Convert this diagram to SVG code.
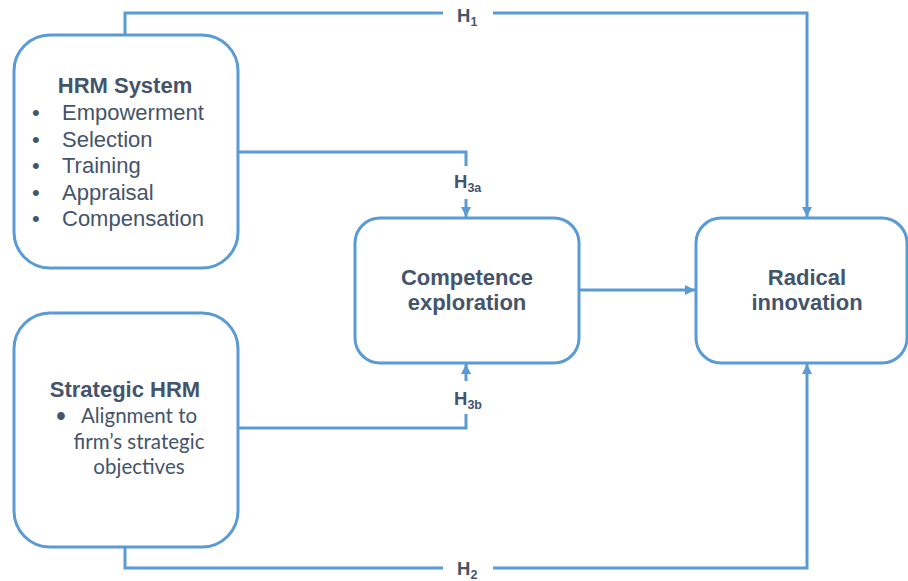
<svg xmlns="http://www.w3.org/2000/svg" width="908" height="581" viewBox="0 0 908 581">
<style>
.box{fill:#fff;stroke:#5b9bd5;stroke-width:3}
.ln{fill:none;stroke:#5b9bd5;stroke-width:3}
.t{font-family:"Liberation Sans",Arial,sans-serif;fill:#44546a;font-size:22px}
.b{font-weight:bold}
.c{font-family:Lato,"Liberation Sans",sans-serif;fill:#44546a;font-size:20.5px}
.h{font-family:"Liberation Sans",Arial,sans-serif;fill:#44546a;font-size:18.5px;font-weight:bold}
</style>
<defs>
<marker id="arr" markerUnits="userSpaceOnUse" markerWidth="11" markerHeight="10" refX="10" refY="5" orient="auto">
<path d="M0,0 L10,5 L0,10 z" fill="#5b9bd5"/>
</marker>
</defs>
<rect width="908" height="581" fill="#fff"/>
<g id="connectors">
<path class="ln" d="M125,35 V13 H443"/>
<path class="ln" d="M493,13 H807 V217" marker-end="url(#arr)"/>
<path class="ln" d="M125,547 V568 H443"/>
<path class="ln" d="M493,568 H807 V364" marker-end="url(#arr)"/>
<path class="ln" d="M238,152 H466 V166"/>
<path class="ln" d="M466,199 V217" marker-end="url(#arr)"/>
<path class="ln" d="M238,428 H466 V414"/>
<path class="ln" d="M466,381 V364" marker-end="url(#arr)"/>
<path class="ln" d="M579,290 H695" marker-end="url(#arr)"/>
<text class="h" x="457" y="22">H<tspan font-size="12.5" dy="4">1</tspan></text>
<text class="h" x="457" y="575">H<tspan font-size="12.5" dy="4">2</tspan></text>
<text class="h" x="454" y="188">H<tspan font-size="12.5" dy="4">3a</tspan></text>
<text class="h" x="454" y="405">H<tspan font-size="12.5" dy="4">3b</tspan></text>
</g>
<g id="hrm-system">
<rect class="box" x="14" y="35" width="224" height="233" rx="36"/>
<text class="t b" x="125" y="93" text-anchor="middle">HRM System</text>
<text class="t" x="32" y="120">•</text><text class="t" x="62" y="120">Empowerment</text>
<text class="t" x="32" y="147">•</text><text class="t" x="62" y="147">Selection</text>
<text class="t" x="32" y="173">•</text><text class="t" x="62" y="173">Training</text>
<text class="t" x="32" y="200">•</text><text class="t" x="62" y="200">Appraisal</text>
<text class="t" x="32" y="226">•</text><text class="t" x="62" y="226">Compensation</text>
</g>
<g id="strategic-hrm">
<rect class="box" x="14" y="313" width="224" height="234" rx="36"/>
<text class="t b" x="125" y="397" text-anchor="middle" font-size="23">Strategic HRM</text>
<text class="c" x="55" y="423">•</text>
<text class="c" x="139" y="423" text-anchor="middle">Alignment to</text>
<text class="c" x="139" y="449" text-anchor="middle">firm’s strategic</text>
<text class="c" x="139" y="474" text-anchor="middle">objectives</text>
</g>
<g id="competence-exploration">
<rect class="box" x="355" y="218" width="224" height="145" rx="25"/>
<text class="t b" x="467" y="285" text-anchor="middle" font-size="22.5">Competence</text>
<text class="t b" x="467" y="310" text-anchor="middle" font-size="22.5">exploration</text>
</g>
<g id="radical-innovation">
<rect class="box" x="696" y="218" width="211" height="145" rx="25"/>
<text class="t b" x="807" y="285" text-anchor="middle" font-size="22.5">Radical</text>
<text class="t b" x="807" y="310" text-anchor="middle" font-size="22.5">innovation</text>
</g>
</svg>
